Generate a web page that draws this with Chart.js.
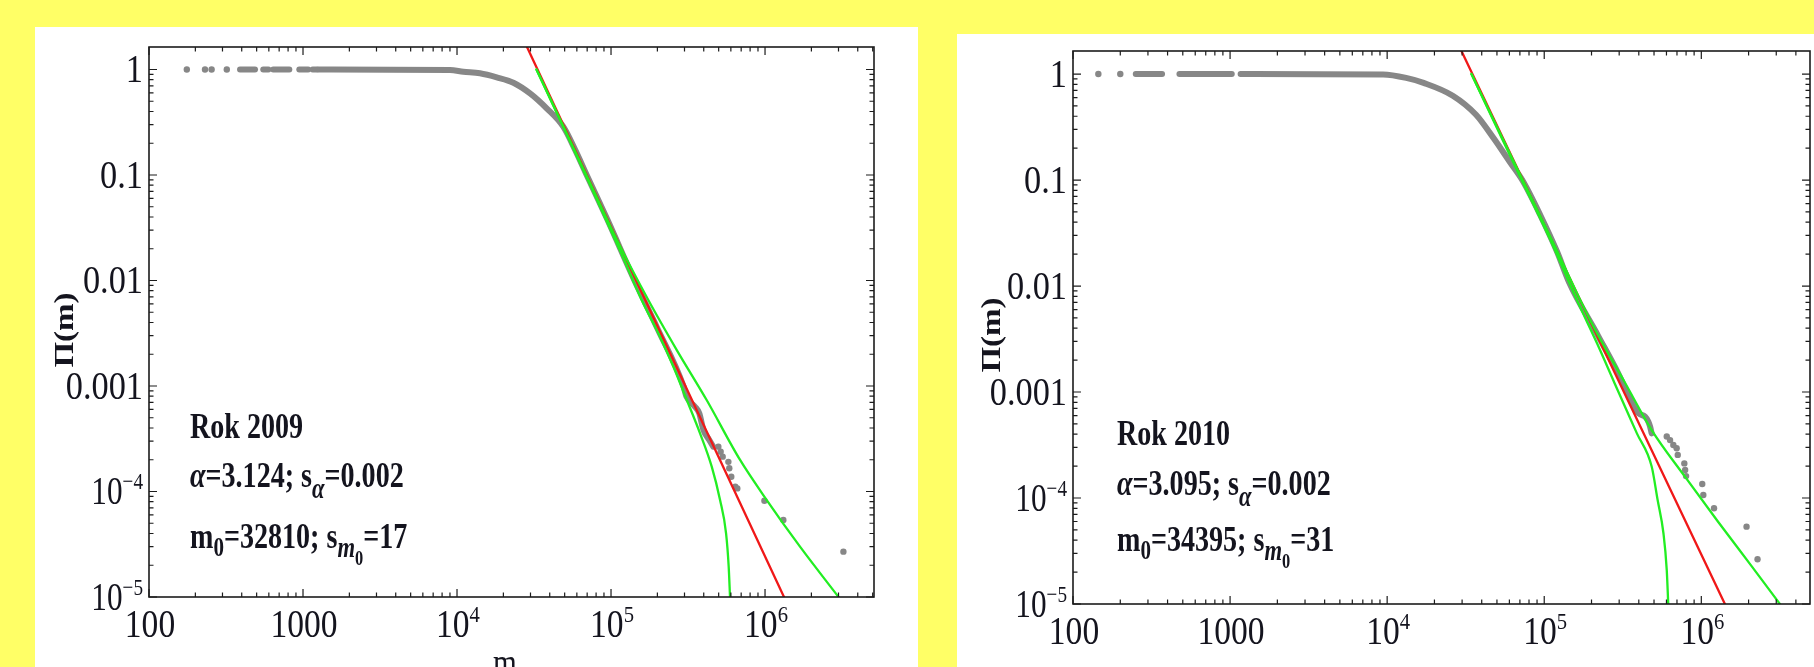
<!DOCTYPE html>
<html>
<head>
<meta charset="utf-8">
<script src="https://cdn.jsdelivr.net/npm/chart.js@4"></script>
<style>
html, body { margin: 0; padding: 0; }
body { width: 1814px; height: 667px; background: #ffff66; position: relative; overflow: hidden; }
.panel { position: absolute; background: #fff; }
#p1 { left: 35px; top: 27px; width: 883px; height: 640px; }
#p2 { left: 957px; top: 34px; width: 857px; height: 633px; }
canvas { display: block; }
</style>
</head>
<body>
<div class="panel" id="p1"><canvas id="c1" width="883" height="640"></canvas></div>
<div class="panel" id="p2"><canvas id="c2" width="857" height="633"></canvas></div>
<script>
// axis ticks
const xTickValues = [100, 1000, 1e4, 1e5, 1e6];
const xTickText = [['100'], ['1000'], ['10', '4'], ['10', '5'], ['10', '6']];
const yTickValues = [1, 0.1, 0.01, 0.001, 1e-4, 1e-5];
const yTickText = [['1'], ['0.1'], ['0.01'], ['0.001'], ['10', '\u22124'], ['10', '\u22125']];

// 2009: isolated points (m, Pi)
const dots2009M = [176, 231, 255, 320, 497700, 515200, 530900, 578100, 586100, 603900, 641200, 660700, 990800, 1315000, 3228000];
const dots2009P = [1, 1, 1, 1, 2.66e-4, 2.38e-4, 2.14e-4, 1.91e-4, 1.66e-4, 1.38e-4, 1.11e-4, 1.07e-4, 8.18e-5, 5.37e-5, 2.69e-5];
// 2009: dense runs of points
const band2009M = [
  [390, 488], [552, 596], [641, 815], [946, 1081], [1156, 1227],
  [1256, 9000, 10990, 14090, 18110, 23230, 29790, 38190, 48980, 58500, 69500, 95000, 142000, 199500, 295100, 309000, 350800, 374100, 398100, 434500, 461300]
];
const band2009P = [
  [1, 1], [1, 1], [1, 1], [1, 1], [1, 1],
  [1, 0.99, 0.953, 0.92, 0.843, 0.75, 0.594, 0.429, 0.287, 0.173, 0.1, 0.0374, 0.01, 0.00355, 0.001, 7.94e-4, 6.37e-4, 5.51e-4, 3.83e-4, 3.08e-4, 2.66e-4]
];
const red2009M = [28480, 1328000];
const red2009P = [1.634, 1e-5];
const greenHi2009M = [32800, 70790, 112200, 174600, 267300, 417800, 688700, 1026000, 1687000, 3027000];
const greenHi2009P = [1, 0.0933, 0.0224, 0.00653, 0.00219, 7.36e-4, 1.99e-4, 8.3e-5, 3.0e-5, 9.84e-6];
const greenLo2009M = [32800, 70790, 112200, 158100, 202800, 254100, 310500, 378400, 450800, 510500, 558500, 580800, 592900];
const greenLo2009P = [1, 0.0891, 0.0204, 0.00653, 0.00316, 0.00152, 7.36e-4, 3.56e-4, 1.72e-4, 8.3e-5, 4.02e-5, 1.94e-5, 9.84e-6];

// 2010
const dots2010M = [145, 200, 602600, 632400, 663700, 696600, 707900, 779800, 788900, 799800, 1014000, 1030000, 1205000, 1941000, 2280000];
const dots2010P = [1, 1, 3.8e-4, 3.52e-4, 3.16e-4, 2.95e-4, 2.55e-4, 2.12e-4, 1.84e-4, 1.61e-4, 1.355e-4, 1.067e-4, 8.0e-5, 5.37e-5, 2.64e-5];
const band2010M = [
  [251, 369], [476, 1025],
  [1167, 9420, 13210, 17060, 26180, 36810, 47530, 61380, 72780, 93970, 121300, 143900, 220300, 297200, 361400, 398100, 438500, 460300, 472100, 483100]
];
const band2010P = [
  [1, 1], [1, 1],
  [1, 0.99, 0.92, 0.826, 0.625, 0.413, 0.249, 0.143, 0.0989, 0.0473, 0.0207, 0.01084, 3.39e-3, 1.48e-3, 7.94e-4, 6.31e-4, 5.85e-4, 5.25e-4, 4.71e-4, 4.07e-4]
];
const red2010M = [29720, 1413000];
const red2010P = [1.65, 1e-5];
const greenHi2010M = [34400, 70790, 112200, 165600, 216800, 328100, 483100, 787000, 1282000, 2084000, 3236000];
const greenHi2010P = [1, 0.1096, 0.0269, 0.00794, 0.00358, 0.00121, 4.38e-4, 1.59e-4, 5.94e-5, 2.29e-5, 9.57e-6];
const greenLo2010M = [34400, 70790, 112200, 162200, 216800, 280500, 389000, 483100, 527200, 574100, 602600, 616600];
const greenLo2010P = [1, 0.1047, 0.0251, 0.00724, 0.00288, 0.00121, 4.07e-4, 1.98e-4, 9.57e-5, 4.65e-5, 2.09e-5, 9.57e-6];

const GRAY = '#878787';
const RED = '#f01818';
const GREEN = '#22ee22';
const TEXT = '#14141e';

const pts = (ms, ps) => ms.map((m, i) => ({ x: m, y: ps[i] }));

function curve(ms, ps, color, width, order) {
  return {
    data: pts(ms, ps), showLine: true, borderColor: color, borderWidth: width,
    pointRadius: 0, order: order, borderCapStyle: 'round', borderJoinStyle: 'round',
    cubicInterpolationMode: 'monotone'
  };
}

// text in the picture is narrow, so glyphs get squeezed by sx
function drawRich(ctx, parts, x, y, align, sx) {
  let w = 0;
  for (const p of parts) { ctx.font = p.font; w += ctx.measureText(p.text).width * sx; }
  let cx = align === 'right' ? x - w : align === 'center' ? x - w / 2 : x;
  for (const p of parts) {
    ctx.font = p.font;
    ctx.save();
    ctx.translate(cx, y + (p.dy || 0));
    ctx.scale(sx, 1);
    ctx.fillText(p.text, 0, 0);
    ctx.restore();
    cx += ctx.measureText(p.text).width * sx;
  }
}

const F = '"Liberation Serif", "Times New Roman", serif';
function tickParts(t) {
  const parts = [{ text: t[0], font: '39px ' + F }];
  if (t[1]) parts.push({ text: t[1], font: '24px ' + F, dy: -15 });
  return parts;
}

const framePlugin = {
  id: 'frame',
  afterDraw(chart, args, o) {
    const { ctx, chartArea: a } = chart;
    const x = chart.scales.x, y = chart.scales.y;
    ctx.save();
    ctx.strokeStyle = '#1c1c1c';
    ctx.lineWidth = 1.2;
    ctx.beginPath();
    for (let d = -6; d <= 7; d++) {
      for (let k = 1; k <= 9; k++) {
        const v = k * Math.pow(10, d);
        const len = k === 1 ? 8 : 4.5;
        if (v >= x.min * 0.999 && v <= x.max * 1.001) {
          const px = x.getPixelForValue(v);
          ctx.moveTo(px, a.bottom); ctx.lineTo(px, a.bottom - len);
          ctx.moveTo(px, a.top); ctx.lineTo(px, a.top + len);
        }
        if (v >= y.min * 0.999 && v <= y.max * 1.001) {
          const py = y.getPixelForValue(v);
          ctx.moveTo(a.left, py); ctx.lineTo(a.left + len, py);
          ctx.moveTo(a.right, py); ctx.lineTo(a.right - len, py);
        }
      }
    }
    ctx.stroke();
    ctx.lineWidth = 1.6;
    ctx.strokeRect(a.left, a.top, a.right - a.left, a.bottom - a.top);

    ctx.fillStyle = TEXT;
    ctx.textBaseline = 'alphabetic';
    yTickValues.forEach((v, i) => {
      const t = yTickText[i];
      drawRich(ctx, tickParts(t), a.left - 6, y.getPixelForValue(v) + 13, 'right', t[1] ? 0.8 : 0.88);
    });
    xTickValues.forEach((v, i) => {
      drawRich(ctx, tickParts(xTickText[i]), x.getPixelForValue(v) + 1, a.bottom + 40, 'center', 0.86);
    });

    // axis titles
    ctx.save();
    ctx.translate(o.titleX, o.titleY);
    ctx.rotate(-Math.PI / 2);
    ctx.scale(1.0, 0.85);
    ctx.font = 'bold 33px ' + F;
    ctx.textAlign = 'center';
    ctx.textBaseline = 'middle';
    ctx.fillText('\u03a0(m)', 0, 0);
    ctx.restore();
    drawRich(ctx, [{ text: 'm', font: '36px ' + F }], o.mX, o.mY, 'center', 0.85);

    // fit annotation
    const B = 'bold 36px ' + F, IB = 'italic bold 36px ' + F;
    const SB = 'bold 27px ' + F, SIB = 'italic bold 29px ' + F, SSB = 'bold 21px ' + F;
    const s = 0.78;
    drawRich(ctx, [{ text: o.lines[0], font: B }], o.annX, o.annY[0], 'left', s);
    drawRich(ctx, [
      { text: '\u03b1', font: IB }, { text: '=' + o.lines[1] + '; s', font: B },
      { text: '\u03b1', font: SIB, dy: 11 }, { text: '=' + o.lines[2], font: B }
    ], o.annX, o.annY[1], 'left', s);
    drawRich(ctx, [
      { text: 'm', font: B }, { text: '0', font: SB, dy: 8 }, { text: '=' + o.lines[3] + '; s', font: B },
      { text: 'm', font: SIB, dy: 9 }, { text: '0', font: SSB, dy: 17 }, { text: '=' + o.lines[4], font: B }
    ], o.annX, o.annY[2], 'left', s);
    ctx.restore();
  }
};

function makeChart(id, d) {
  const datasets = [
    curve(d.gHiM, d.gHiP, GREEN, 2.3, 0),
    curve(d.gLoM, d.gLoP, GREEN, 2.3, 0),
    curve(d.redM, d.redP, RED, 2.3, 1)
  ];
  d.bandM.forEach((seg, i) => datasets.push(curve(seg, d.bandP[i], GRAY, 6, 3)));
  datasets.push({
    data: pts(d.dotM, d.dotP), showLine: false, pointRadius: 3.2, pointBorderWidth: 0,
    pointBackgroundColor: GRAY, order: 2
  });
  return new Chart(document.getElementById(id), {
    type: 'scatter',
    data: { datasets },
    options: {
      responsive: false,
      animation: false,
      events: [],
      layout: { padding: d.pad },
      plugins: { legend: { display: false }, tooltip: { enabled: false }, frame: d.frame },
      scales: {
        x: { type: 'logarithmic', min: 100, max: d.xMax, display: false },
        y: { type: 'logarithmic', min: 1e-5, max: d.yMax, display: false }
      }
    },
    plugins: [framePlugin]
  });
}

makeChart('c1', {
  dotM: dots2009M, dotP: dots2009P, bandM: band2009M, bandP: band2009P,
  redM: red2009M, redP: red2009P, gHiM: greenHi2009M, gHiP: greenHi2009P, gLoM: greenLo2009M, gLoP: greenLo2009P,
  xMax: 5.1e6, yMax: 1.634,
  pad: { left: 114, top: 20, right: 44, bottom: 70 },
  frame: { titleX: 31, titleY: 303, mX: 470, mY: 647, annX: 155, annY: [411, 460, 521],
           lines: ['Rok 2009', '3.124', '0.002', '32810', '17'] }
});

makeChart('c2', {
  dotM: dots2010M, dotP: dots2010P, bandM: band2010M, bandP: band2010P,
  redM: red2010M, redP: red2010P, gHiM: greenHi2010M, gHiP: greenHi2010P, gLoM: greenLo2010M, gLoP: greenLo2010P,
  xMax: 4.92e6, yMax: 1.65,
  pad: { left: 116, top: 17, right: 2, bottom: 63 },
  frame: { titleX: 36, titleY: 301, mX: 470, mY: 700, annX: 160, annY: [411, 461, 517],
           lines: ['Rok 2010', '3.095', '0.002', '34395', '31'] }
});
</script>
</body>
</html>
